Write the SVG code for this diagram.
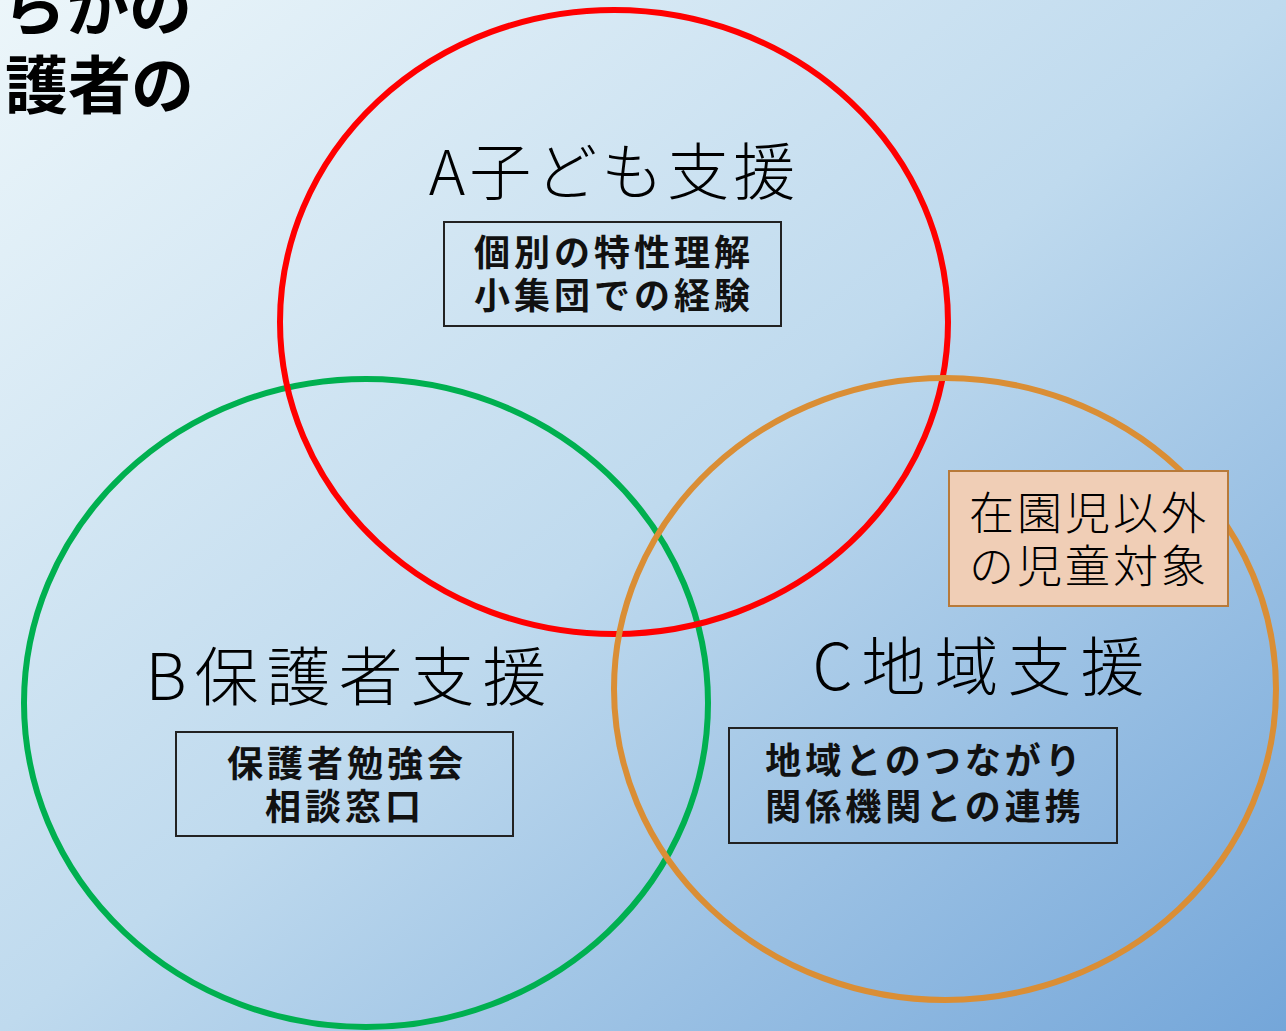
<svg xmlns="http://www.w3.org/2000/svg" width="1286" height="1031" viewBox="0 0 1286 1031">
<defs>
<linearGradient id="bg" x1="0" y1="0" x2="1" y2="1">
<stop offset="0" stop-color="#ECF6FA"/>
<stop offset="0.5" stop-color="#BFDAEE"/>
<stop offset="1" stop-color="#74A6D9"/>
</linearGradient>
<style>
.ring{fill:none;stroke-width:6}
.title{font-family:"Noto Sans CJK JP","Noto Sans CJK SC",sans-serif;font-weight:300;fill:#000;text-anchor:middle}
.box{fill:none;stroke:#222;stroke-width:2}
.bt{font-family:"Noto Sans CJK JP","Noto Sans CJK SC",sans-serif;font-weight:700;font-size:36px;fill:#111;text-anchor:middle;letter-spacing:4px}
.head{font-family:"Noto Sans CJK JP","Noto Sans CJK SC",sans-serif;font-weight:700;font-size:63px;fill:#000;text-anchor:end}
</style>
</defs>
<rect width="1286" height="1031" fill="url(#bg)"/>
<g id="heading">
<text class="head" x="192" y="30">らかの</text>
<text class="head" x="194" y="108">護者の</text>
</g>
<g id="circles">
<ellipse id="circle-b" class="ring" cx="366" cy="703" rx="342" ry="324" stroke="#00B050"/>
<ellipse id="circle-a" class="ring" cx="614" cy="322" rx="334" ry="312" stroke="#FF0000"/>
<ellipse id="circle-c" class="ring" cx="945" cy="689" rx="331" ry="311" stroke="#DA8E35"/>
</g>
<g id="node-a">
<text class="title" x="614" y="195" font-size="62" letter-spacing="4">A子ども支援</text>
<rect class="box" x="444" y="222" width="337" height="104"/>
<text class="bt" x="614" y="266">個別の特性理解</text>
<text class="bt" x="614" y="309">小集団での経験</text>
</g>
<g id="node-b">
<text class="title" x="350" y="700" font-size="64" letter-spacing="8">B保護者支援</text>
<rect class="box" x="176" y="732" width="337" height="104"/>
<text class="bt" x="347" y="777">保護者勉強会</text>
<text class="bt" x="345" y="820">相談窓口</text>
</g>
<g id="node-c">
<text class="title" x="983" y="690" font-size="64" letter-spacing="9">C地域支援</text>
<rect class="box" x="729" y="728" width="388" height="115"/>
<text class="bt" x="925" y="774">地域とのつながり</text>
<text class="bt" x="925" y="820">関係機関との連携</text>
</g>
<g id="node-other">
<rect x="949" y="471" width="279" height="135" fill="#F0CEB6" stroke="#B87A3A" stroke-width="2"/>
<text class="title" x="1089" y="530" font-size="45" font-weight="400" letter-spacing="3">在園児以外</text>
<text class="title" x="1089" y="583" font-size="45" font-weight="400" letter-spacing="3">の児童対象</text>
</g>
</svg>
